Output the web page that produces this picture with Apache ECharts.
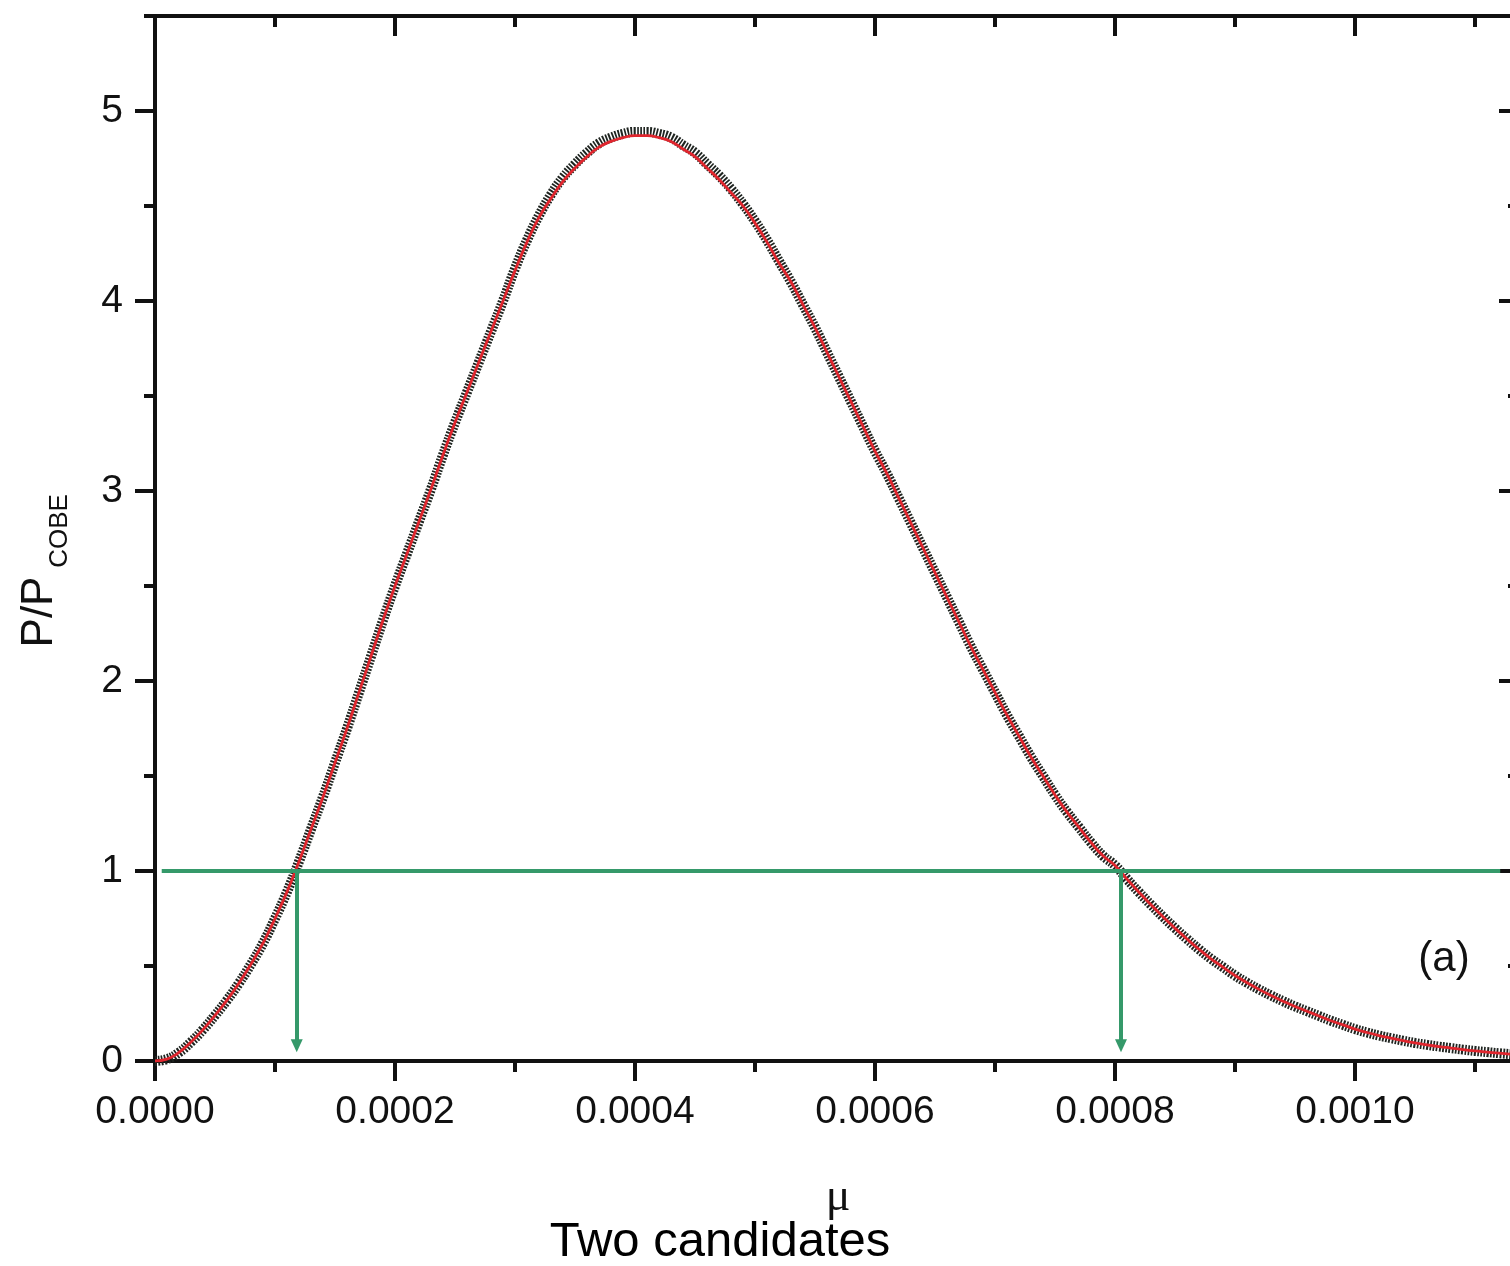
<!DOCTYPE html>
<html>
<head>
<meta charset="utf-8">
<title>P/P_COBE against mu</title>
<script src="https://cdn.jsdelivr.net/npm/echarts@6/dist/echarts.min.js"></script>
<style>
  html, body { margin: 0; padding: 0; background: #fff; }
  #chart { width: 1510px; height: 1266px; }
</style>
</head>
<body>
<div id="chart"></div>
<script>
// mu, one sample every 1e-5
const mu = [
  0.00000, 0.00001, 0.00002, 0.00003, 0.00004, 0.00005, 0.00006, 0.00007, 0.00008, 0.00009,
  0.00010, 0.00011, 0.00012, 0.00013, 0.00014, 0.00015, 0.00016, 0.00017, 0.00018, 0.00019,
  0.00020, 0.00021, 0.00022, 0.00023, 0.00024, 0.00025, 0.00026, 0.00027, 0.00028, 0.00029,
  0.00030, 0.00031, 0.00032, 0.00033, 0.00034, 0.00035, 0.00036, 0.00037, 0.00038, 0.00039,
  0.00040, 0.00041, 0.00042, 0.00043, 0.00044, 0.00045, 0.00046, 0.00047, 0.00048, 0.00049,
  0.00050, 0.00051, 0.00052, 0.00053, 0.00054, 0.00055, 0.00056, 0.00057, 0.00058, 0.00059,
  0.00060, 0.00061, 0.00062, 0.00063, 0.00064, 0.00065, 0.00066, 0.00067, 0.00068, 0.00069,
  0.00070, 0.00071, 0.00072, 0.00073, 0.00074, 0.00075, 0.00076, 0.00077, 0.00078, 0.00079,
  0.00080, 0.00081, 0.00082, 0.00083, 0.00084, 0.00085, 0.00086, 0.00087, 0.00088, 0.00089,
  0.00090, 0.00091, 0.00092, 0.00093, 0.00094, 0.00095, 0.00096, 0.00097, 0.00098, 0.00099,
  0.00100, 0.00101, 0.00102, 0.00103, 0.00104, 0.00105, 0.00106, 0.00107, 0.00108, 0.00109,
  0.00110, 0.00111, 0.00112, 0.00113
]

// black cross markers
const crossVals = [
  0.000, 0.010, 0.045, 0.10, 0.165, 0.24, 0.32, 0.41, 0.51, 0.62,
  0.75, 0.89, 1.05, 1.22, 1.39, 1.57, 1.75, 1.94, 2.13, 2.32,
  2.50, 2.67, 2.84, 3.01, 3.19, 3.36, 3.52, 3.68, 3.84, 4.00,
  4.17, 4.32, 4.45, 4.56, 4.65, 4.72, 4.78, 4.83, 4.86, 4.88,
  4.89, 4.89, 4.88, 4.86, 4.82, 4.78, 4.72, 4.66, 4.59, 4.51,
  4.42, 4.32, 4.21, 4.10, 3.98, 3.86, 3.73, 3.60, 3.47, 3.34,
  3.21, 3.09, 2.96, 2.83, 2.70, 2.57, 2.44, 2.31, 2.18, 2.06,
  1.94, 1.82, 1.71, 1.60, 1.50, 1.40, 1.31, 1.23, 1.15, 1.08,
  1.029, 0.957, 0.888, 0.822, 0.759, 0.699, 0.642, 0.588, 0.538, 0.494,
  0.450, 0.412, 0.377, 0.345, 0.315, 0.287, 0.262, 0.237, 0.212, 0.190,
  0.168, 0.150, 0.134, 0.120, 0.107, 0.095, 0.085, 0.076, 0.068, 0.060,
  0.053, 0.047, 0.041, 0.036
]

// red fitted line
const fitVals = [
  0.000, 0.010, 0.045, 0.10, 0.165, 0.24, 0.32, 0.41, 0.51, 0.62,
  0.75, 0.89, 1.05, 1.22, 1.39, 1.57, 1.75, 1.94, 2.13, 2.32,
  2.50, 2.67, 2.84, 3.01, 3.19, 3.36, 3.52, 3.68, 3.84, 4.00,
  4.16, 4.31, 4.44, 4.54, 4.63, 4.70, 4.76, 4.81, 4.84, 4.86,
  4.87, 4.87, 4.86, 4.84, 4.80, 4.76, 4.70, 4.64, 4.57, 4.50,
  4.41, 4.31, 4.20, 4.10, 3.98, 3.86, 3.73, 3.60, 3.47, 3.34,
  3.21, 3.09, 2.96, 2.83, 2.70, 2.57, 2.44, 2.31, 2.18, 2.06,
  1.94, 1.82, 1.71, 1.60, 1.50, 1.40, 1.31, 1.23, 1.15, 1.08,
  1.029, 0.957, 0.888, 0.822, 0.759, 0.699, 0.642, 0.588, 0.538, 0.494,
  0.450, 0.412, 0.377, 0.345, 0.315, 0.287, 0.262, 0.237, 0.212, 0.190,
  0.168, 0.150, 0.134, 0.120, 0.107, 0.095, 0.085, 0.076, 0.068, 0.060,
  0.053, 0.047, 0.041, 0.036
]

const yTicks = [0, 1, 2, 3, 4, 5]
const cobeLevel = 1
const levelSpan = [0.0000056, 0.001121]
const candidates = [0.0001181, 0.000805]
const arrowEnd = 0.08

const font = '"Liberation Sans", Arial, sans-serif'
const ink = '#111'
const green = '#35996a'

const chart = echarts.init(document.getElementById('chart'))

const xBase = {
  type: 'value',
  min: 0,
  max: 0.0012,
  interval: 0.0002,
  splitLine: { show: false },
  axisLine: { onZero: false, lineStyle: { color: ink, width: 4 } },
  axisTick: { length: 20, lineStyle: { color: ink, width: 4 } },
  minorTick: { show: true, splitNumber: 2, length: 11, lineStyle: { color: ink, width: 4 } }
}

// integer ticks with labels
const yMajor = {
  type: 'value',
  min: 0,
  max: 5.5,
  interval: 1,
  splitLine: { show: false },
  axisLine: { onZero: false, lineStyle: { color: ink, width: 4 } },
  axisTick: { length: 20, customValues: yTicks, lineStyle: { color: ink, width: 4 } }
}

// half-step short ticks
const yMinor = {
  type: 'value',
  min: 0,
  max: 5.5,
  interval: 0.5,
  splitLine: { show: false },
  axisLine: { show: false, onZero: false },
  axisLabel: { show: false },
  axisTick: { length: 11, lineStyle: { color: ink, width: 4 } }
}

const pts = (vals) => mu.map((m, i) => [m, vals[i]])

const option = {
  animation: false,
  backgroundColor: '#ffffff',
  grid: { left: 155, right: -85, top: 16, bottom: 205, containLabel: false, outerBoundsMode: 'none' },
  xAxis: [
    Object.assign({}, xBase, {
      position: 'bottom',
      axisLabel: {
        margin: 32, fontSize: 39, fontFamily: font, color: ink,
        formatter: (v) => v.toFixed(4)
      }
    }),
    Object.assign({}, xBase, {
      position: 'top',
      axisLabel: { show: false },
      axisTick: Object.assign({}, xBase.axisTick, { inside: true })
    })
  ],
  yAxis: [
    Object.assign({}, yMajor, {
      position: 'left',
      axisLabel: {
        margin: 32, fontSize: 39, fontFamily: font, color: ink,
        customValues: yTicks,
        formatter: (v) => Number.isInteger(v) ? String(v) : ''
      }
    }),
    Object.assign({}, yMinor, { position: 'left' }),
    Object.assign({}, yMajor, {
      position: 'right',
      offset: -76,
      axisLabel: { show: false },
      axisTick: Object.assign({}, yMajor.axisTick, { inside: true })
    }),
    Object.assign({}, yMinor, {
      position: 'right',
      offset: -76,
      axisTick: Object.assign({}, yMinor.axisTick, { inside: true })
    })
  ],
  series: [
    {
      name: 'markers',
      type: 'line',
      data: pts(crossVals),
      smooth: true,
      showSymbol: false,
      z: 2,
      lineStyle: { color: '#1f2420', width: 10, type: [1.8, 1.4], cap: 'butt' }
    },
    {
      name: 'fit',
      type: 'line',
      data: pts(fitVals),
      smooth: true,
      showSymbol: false,
      z: 3,
      lineStyle: { color: '#e0262e', width: 2.8 },
      markLine: {
        silent: true,
        animation: false,
        label: { show: false },
        lineStyle: { color: green, width: 4, type: 'solid' },
        data: [
          [
            { coord: [levelSpan[0], cobeLevel], symbol: 'none' },
            { coord: [levelSpan[1], cobeLevel], symbol: 'none' }
          ],
          [
            { coord: [candidates[0], cobeLevel], symbol: 'none' },
            { coord: [candidates[0], arrowEnd], symbol: 'triangle', symbolSize: [12, 13] }
          ],
          [
            { coord: [candidates[1], cobeLevel], symbol: 'none' },
            { coord: [candidates[1], arrowEnd], symbol: 'triangle', symbolSize: [12, 13] }
          ]
        ]
      }
    }
  ],
  graphic: [
    {
      type: 'text', x: 40, y: 612, rotation: Math.PI / 2,
      style: { text: 'P/P', fontSize: 44, fontFamily: font, fill: ink, align: 'center', verticalAlign: 'middle' }
    },
    {
      type: 'text', x: 60, y: 531, rotation: Math.PI / 2,
      style: { text: 'COBE', fontSize: 26, fontFamily: font, fill: ink, align: 'center', verticalAlign: 'middle' }
    },
    {
      type: 'text', x: 838, y: 1198,
      style: { text: 'μ', fontSize: 46, fontFamily: '"Liberation Serif", "DejaVu Serif", serif', fill: ink, align: 'center', verticalAlign: 'middle' }
    },
    {
      type: 'text', x: 720, y: 1242,
      style: { text: 'Two candidates', fontSize: 49, fontFamily: font, fill: '#000', align: 'center', verticalAlign: 'middle' }
    },
    {
      type: 'text', x: 1444, y: 959,
      style: { text: '(a)', fontSize: 42, fontFamily: font, fill: ink, align: 'center', verticalAlign: 'middle' }
    }
  ]
}

chart.setOption(option)
</script>
</body>
</html>
